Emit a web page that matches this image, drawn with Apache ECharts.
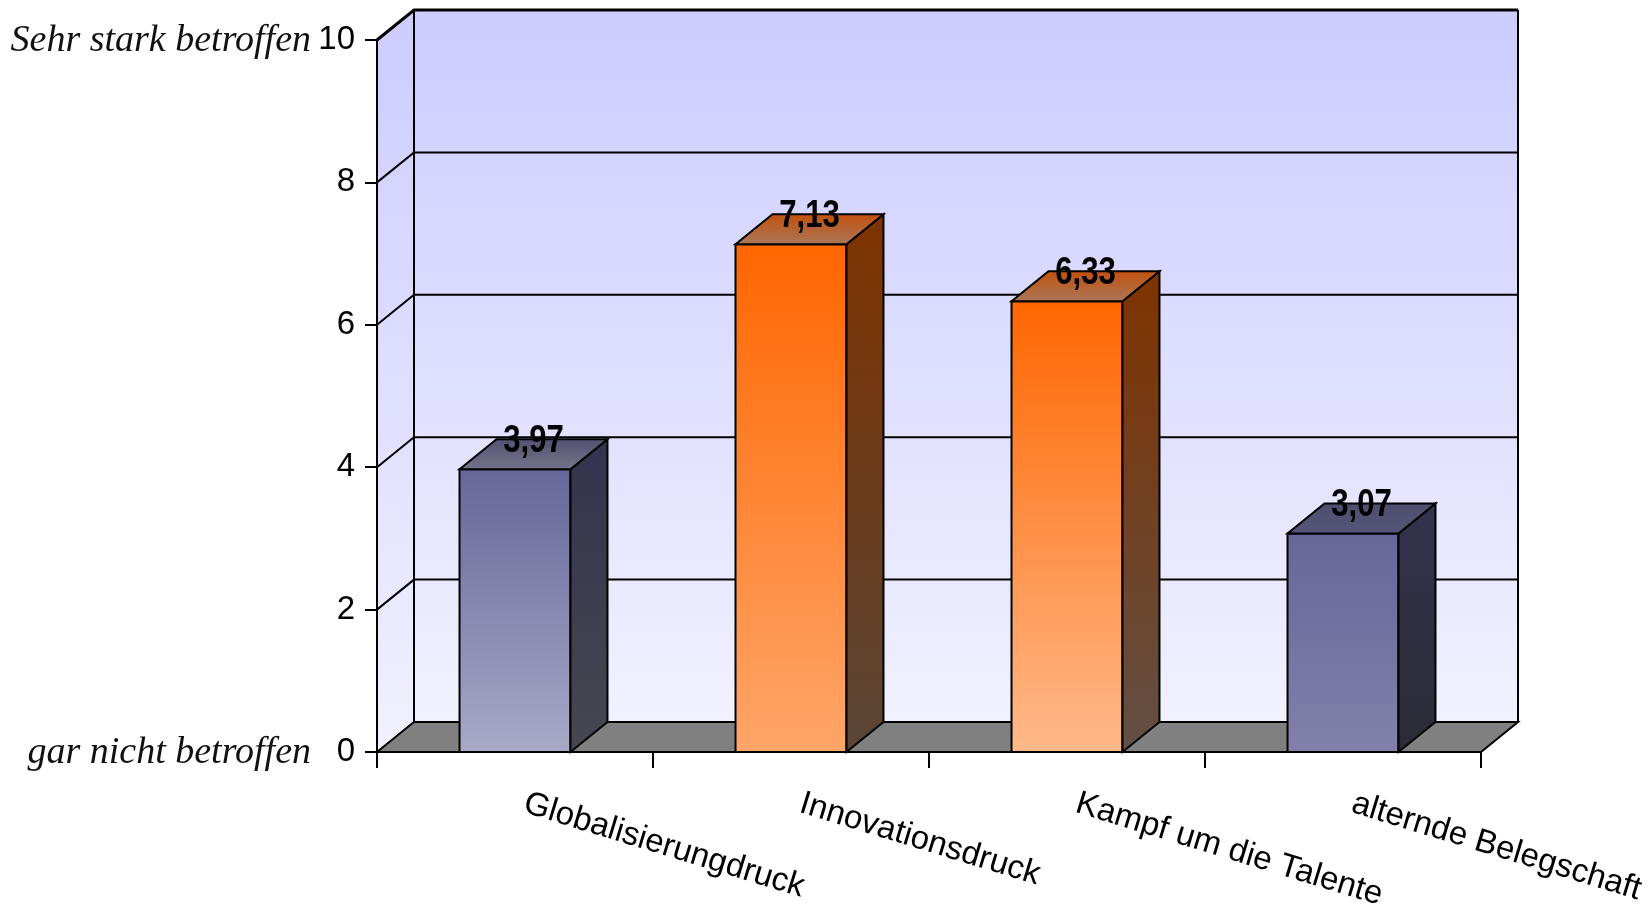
<!DOCTYPE html>
<html>
<head>
<meta charset="utf-8">
<script src="https://cdn.jsdelivr.net/npm/echarts@6/dist/echarts.min.js"></script>
<style>
  html, body { margin: 0; padding: 0; background: #ffffff; }
  #chart { width: 1648px; height: 909px; }
</style>
</head>
<body>
<div id="chart"></div>
<script>
// Survey: how strongly companies are affected by each pressure (0 = not at all, 10 = very strongly)
const categories = ['Globalisierungdruck', 'Innovationsdruck', 'Kampf um die Talente', 'alternde Belegschaft'];
const values = [3.97, 7.13, 6.33, 3.07];
const yTicks = [0, 2, 4, 6, 8, 10];
const scaleEnds = ['gar nicht betroffen', 'Sehr stark betroffen'];

// 3D look: depth offset of the box (px) and relative bar width
const DEPTH = [37, -30];
const BAR_RATIO = 0.402;

// per-bar face colours: [top, bottom] of the front, side and lid
const barStyles = [
  { front: ['#666699', '#a9a9c7'], side: ['#33334f', '#47474f'], lid: ['#525272', '#74748a'] },
  { front: ['#ff6600', '#ffa66a'], side: ['#7f3300', '#5a4536'], lid: ['#c4500c', '#a8785a'] },
  { front: ['#ff6600', '#ffb98a'], side: ['#7f3300', '#634f44'], lid: ['#c4500c', '#a8785a'] },
  { front: ['#666699', '#8181ab'], side: ['#33334f', '#2b2b35'], lid: ['#4e4e6e', '#56567a'] }
];

const grad = (c0, c1) => new echarts.graphic.LinearGradient(0, 0, 0, 1, [
  { offset: 0, color: c0 }, { offset: 1, color: c1 }
]);
const fmt = v => v.toFixed(2).replace('.', ',');

const chart = echarts.init(document.getElementById('chart'), null, { renderer: 'canvas' });

// back wall, side wall, floor and grid lines of the 3D box
function renderRoom(params, api) {
  const cs = params.coordSys;
  const x0 = cs.x, x1 = cs.x + cs.width;
  const yb = cs.y + cs.height, yt = cs.y;
  const [dx, dy] = DEPTH;
  const line = { stroke: '#000', lineWidth: 2, fill: null };
  const children = [];

  children.push({ type: 'polygon', shape: { points: [[x0 + dx, yt + dy], [x1 + dx, yt + dy], [x1 + dx, yb + dy], [x0 + dx, yb + dy]] },
    style: { fill: grad('#ccccff', '#f1f1ff'), stroke: null } });
  children.push({ type: 'polygon', shape: { points: [[x0, yt], [x0 + dx, yt + dy], [x0 + dx, yb + dy], [x0, yb]] },
    style: { fill: grad('#ccccff', '#f1f1ff'), stroke: null } });

  yTicks.forEach(t => {
    const y = api.coord([0, t])[1];
    if (t > 0) {
      children.push({ type: 'polyline', shape: { points: [[x0, y], [x0 + dx, y + dy], [x1 + dx, y + dy]] },
        style: Object.assign({}, line, { lineWidth: t === yTicks[yTicks.length - 1] ? 3 : 2 }) });
    }
  });
  children.push({ type: 'line', shape: { x1: x0 + dx, y1: yt + dy, x2: x0 + dx, y2: yb + dy }, style: line });
  children.push({ type: 'line', shape: { x1: x1 + dx, y1: yt + dy, x2: x1 + dx, y2: yb + dy }, style: line });

  children.push({ type: 'polygon', shape: { points: [[x0, yb], [x0 + dx, yb + dy], [x1 + dx, yb + dy], [x1, yb]] },
    style: { fill: '#808080', stroke: '#000', lineWidth: 2, lineJoin: 'miter' } });

  // descriptive ends of the scale
  const yLow = api.coord([0, yTicks[0]])[1];
  const yHigh = api.coord([0, yTicks[yTicks.length - 1]])[1];
  [[scaleEnds[0], yLow], [scaleEnds[1], yHigh]].forEach(([txt, y]) => {
    children.push({ type: 'text', x: x0 - 66, y: y + 1,
      style: { text: txt, font: 'italic 38px "Liberation Serif", "DejaVu Serif", serif', fill: '#111',
        align: 'right', verticalAlign: 'middle' } });
  });

  return { type: 'group', children };
}

// one 3D bar per category, with its value written on the lid
function renderBar(params, api) {
  const i = api.value(0), v = api.value(1);
  const top = api.coord([i, v]);
  const base = api.coord([i, 0]);
  const bw = api.size([1, 0])[0] * BAR_RATIO;
  const [dx, dy] = DEPTH;
  const fx0 = top[0] - bw / 2, fx1 = top[0] + bw / 2;
  const yT = top[1], yB = base[1];
  const st = barStyles[i % barStyles.length];
  const edge = { stroke: '#000', lineWidth: 2, lineJoin: 'miter' };

  return {
    type: 'group',
    children: [
      { type: 'polygon', shape: { points: [[fx0, yT], [fx1, yT], [fx1, yB], [fx0, yB]] },
        style: Object.assign({ fill: grad(st.front[0], st.front[1]) }, edge) },
      { type: 'polygon', shape: { points: [[fx1, yT], [fx1 + dx, yT + dy], [fx1 + dx, yB + dy], [fx1, yB]] },
        style: Object.assign({ fill: grad(st.side[0], st.side[1]) }, edge) },
      { type: 'polygon', shape: { points: [[fx0, yT], [fx0 + dx, yT + dy], [fx1 + dx, yT + dy], [fx1, yT]] },
        style: Object.assign({ fill: grad(st.lid[0], st.lid[1]) }, edge) },
      { type: 'text', x: top[0] + dx / 2, y: yT + dy + 2, scaleX: 0.82, scaleY: 1,
        style: { text: fmt(v), font: 'bold 38px "Liberation Sans", Arial, sans-serif', fill: '#000',
          align: 'center', verticalAlign: 'middle' } }
    ]
  };
}

chart.setOption({
  animation: false,
  backgroundColor: '#ffffff',
  grid: { left: 377, right: 167, top: 40, bottom: 157, containLabel: false, outerBoundsMode: 'none' },
  xAxis: {
    type: 'category',
    data: categories,
    z: 10,
    axisLine: { show: true, lineStyle: { color: '#000', width: 2 } },
    axisTick: { show: true, length: 16, lineStyle: { color: '#000', width: 2 } },
    axisLabel: {
      rotate: -17, margin: 48, color: '#000', fontSize: 33, padding: [0, 0, 0, 10],
      fontFamily: '"Liberation Sans", Arial, sans-serif', interval: 0
    },
    splitLine: { show: false }
  },
  yAxis: {
    type: 'value',
    min: 0, max: 10, interval: 2,
    z: 10,
    axisLine: { show: true, lineStyle: { color: '#000', width: 2 } },
    axisTick: { show: true, length: 12, lineStyle: { color: '#000', width: 2 } },
    axisLabel: { margin: 22, color: '#000', fontSize: 33, fontFamily: '"Liberation Sans", Arial, sans-serif' },
    splitLine: { show: false }
  },
  series: [
    { type: 'custom', z: 1, silent: true, renderItem: renderRoom, data: [[0, 0]], clip: false },
    { type: 'custom', z: 3, silent: true, renderItem: renderBar,
      data: values.map((v, i) => [i, v]), clip: false }
  ]
});
</script>
</body>
</html>
